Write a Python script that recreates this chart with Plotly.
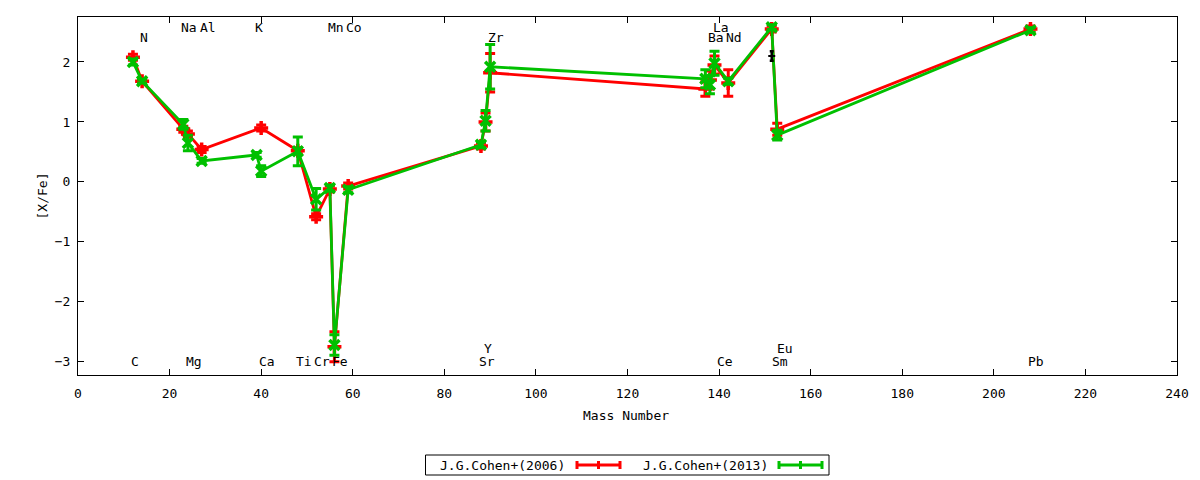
"""
Abundance pattern [X/Fe] against mass number, two Cohen+ datasets,
drawn in the look of a gnuplot canvas plot.
"""

from plotly import graph_objects as go

# J.G.Cohen+(2006)
MASS_2006 = [12, 14, 23, 24, 27, 40, 48, 52, 55, 56, 59, 88, 89, 90,
	137, 138, 139, 142, 151.5, 152.7, 208]
XFE_2006 = [2.08, 1.68, 0.88, 0.80, 0.54, 0.90, 0.52, -0.58, -0.12, -2.75, -0.07, 0.60, 1.00, 1.82,
	1.55, 1.70, 1.95, 1.65, 2.55, 0.88, 2.55]
ERR_2006 = [0.05, 0.03, 0.05, 0.05, 0.05, 0.05, 0.05, 0.05, 0.05, 0.25, 0.05, 0.05, 0.15, 0.32,
	0.12, 0.15, 0.15, 0.22, 0.05, 0.10, 0.05]

# J.G.Cohen+(2013)
MASS_2013 = [12, 14, 23, 24, 27, 39, 40, 48, 52, 55, 56, 59, 88, 89, 90,
	137, 138, 139, 142, 151.5, 152.7, 208]
XFE_2013 = [2.00, 1.68, 0.96, 0.65, 0.35, 0.45, 0.18, 0.51, -0.29, -0.10, -2.72, -0.13, 0.62, 1.02, 1.92,
	1.72, 1.62, 1.98, 1.68, 2.58, 0.78, 2.53]
ERR_2013 = [0.05, 0.03, 0.08, 0.13, 0.04, 0.04, 0.09, 0.24, 0.18, 0.05, 0.17, 0.05, 0.05, 0.17, 0.37,
	0.15, 0.15, 0.20, 0.05, 0.04, 0.08, 0.04]

# unlabeled extra point near Sm
MASS_EXTRA = [151.5]
XFE_EXTRA = [2.10]
ERR_EXTRA = [0.08]

# element labels: name, mass, y position
LABEL_NAMES = ["C", "N", "Na", "Mg", "Al", "K", "Ca", "Ti", "Cr", "Mn", "Fe", "Co",
	"Sr", "Y", "Zr", "Ba", "La", "Ce", "Nd", "Sm", "Eu", "Pb"]
LABEL_MASS = [12, 14, 23, 24, 27, 39, 40, 48, 52, 55, 56, 59,
	88, 89, 90, 138, 139, 140, 142, 152, 153, 208]
LABEL_Y = [-3.0, 2.4, 2.58, -3.0, 2.58, 2.58, -3.0, -3.0, -3.0, 2.58, -3.0, 2.58,
	-3.0, -2.77, 2.4, 2.4, 2.58, -3.0, 2.4, -3.0, -2.77, -3.0]

FONT = "DejaVu Sans Mono"
RED = "#ff0000"
GREEN = "#00c000"

# the page body has an 8px margin; plot area wanted at these window pixels
PAGE = 8
W, H = 1200 - PAGE, 480 - PAGE
L, R, T, B = 78, 1177, 17, 375


def px(x):
	return (x - L) / (R - L)


def py(y):
	return (B - y) / (B - T)


def make_figure() -> go.Figure:
	fig = go.Figure()

	series = [
		(MASS_2006, XFE_2006, ERR_2006, RED, "cross-thin", "J.G.Cohen+(2006)"),
		(MASS_2013, XFE_2013, ERR_2013, GREEN, "x-thin", "J.G.Cohen+(2013)"),
	]
	for mass, val, err, color, symbol, name in series:
		fig.add_trace(go.Scatter(
			x=mass, y=val, mode="lines+markers", name=name,
			line=dict(color=color, width=2.8),
			marker=dict(symbol=symbol, size=10, color=color, line=dict(color=color, width=3.5)),
			error_y=dict(type="data", array=err, visible=True, color=color, thickness=3, width=5),
			showlegend=False,
		))

	fig.add_trace(go.Scatter(
		x=MASS_EXTRA, y=XFE_EXTRA, mode="markers",
		marker=dict(symbol="line-ew", size=5, color="black", line=dict(color="black", width=2)),
		error_y=dict(type="data", array=ERR_EXTRA, visible=True, color="black", thickness=2.5, width=2),
		showlegend=False,
	))

	# element names
	for name, mass, yv in zip(LABEL_NAMES, LABEL_MASS, LABEL_Y):
		fig.add_annotation(
			x=mass, y=yv, text=name, showarrow=False,
			xanchor="left", yanchor="middle", xshift=-4,
			font=dict(family=FONT, size=13, color="black"),
		)

	# axis titles
	fig.add_annotation(
		x=px(626), y=py(425), xref="paper", yref="paper", text="Mass Number",
		showarrow=False, font=dict(family=FONT, size=13, color="black"),
	)
	fig.add_annotation(
		x=px(32), y=py(196), xref="paper", yref="paper", text="[X/Fe]", textangle=-90,
		showarrow=False, font=dict(family=FONT, size=13, color="black"),
	)

	# legend box drawn by hand (gnuplot puts the sample after the text)
	fig.add_shape(
		type="rect", xref="paper", yref="paper",
		x0=px(425.5), x1=px(829), y0=py(455), y1=py(475),
		line=dict(color="black", width=1),
	)
	for text, tx, sx, color in [("J.G.Cohen+(2006)", 567, 577, RED), ("J.G.Cohen+(2013)", 770, 779, GREEN)]:
		fig.add_annotation(
			x=px(tx), y=py(465), xref="paper", yref="paper", text=text,
			xanchor="right", yanchor="middle", showarrow=False,
			font=dict(family=FONT, size=13, color="black"),
		)
		fig.add_shape(
			type="line", xref="paper", yref="paper",
			x0=px(sx), x1=px(sx + 43), y0=py(465), y1=py(465),
			line=dict(color=color, width=3),
		)
		for cx in (sx, sx + 21.5, sx + 43):
			fig.add_shape(
				type="line", xref="paper", yref="paper",
				x0=px(cx), x1=px(cx), y0=py(461), y1=py(469),
				line=dict(color=color, width=3),
			)

	axis = dict(
		showline=True, linecolor="black", linewidth=1, mirror="ticks",
		ticks="inside", ticklen=6, tickcolor="black", showgrid=False, zeroline=False,
		tickfont=dict(family=FONT, size=13, color="black"),
	)
	fig.update_layout(
		width=W, height=H,
		margin=dict(l=L - PAGE, r=1200 - R, t=T - PAGE, b=480 - B),
		paper_bgcolor="white", plot_bgcolor="white",
		xaxis=dict(axis, range=[0, 240], tickvals=list(range(0, 241, 20)), ticklabelstandoff=6),
		yaxis=dict(axis, range=[-3.22, 2.75], tickvals=[-3, -2, -1, 0, 1, 2], ticklabelstandoff=4),
		showlegend=False,
	)
	return fig


if __name__ == "__main__":
	fig = make_figure()
	fig.write_html("out.html")
